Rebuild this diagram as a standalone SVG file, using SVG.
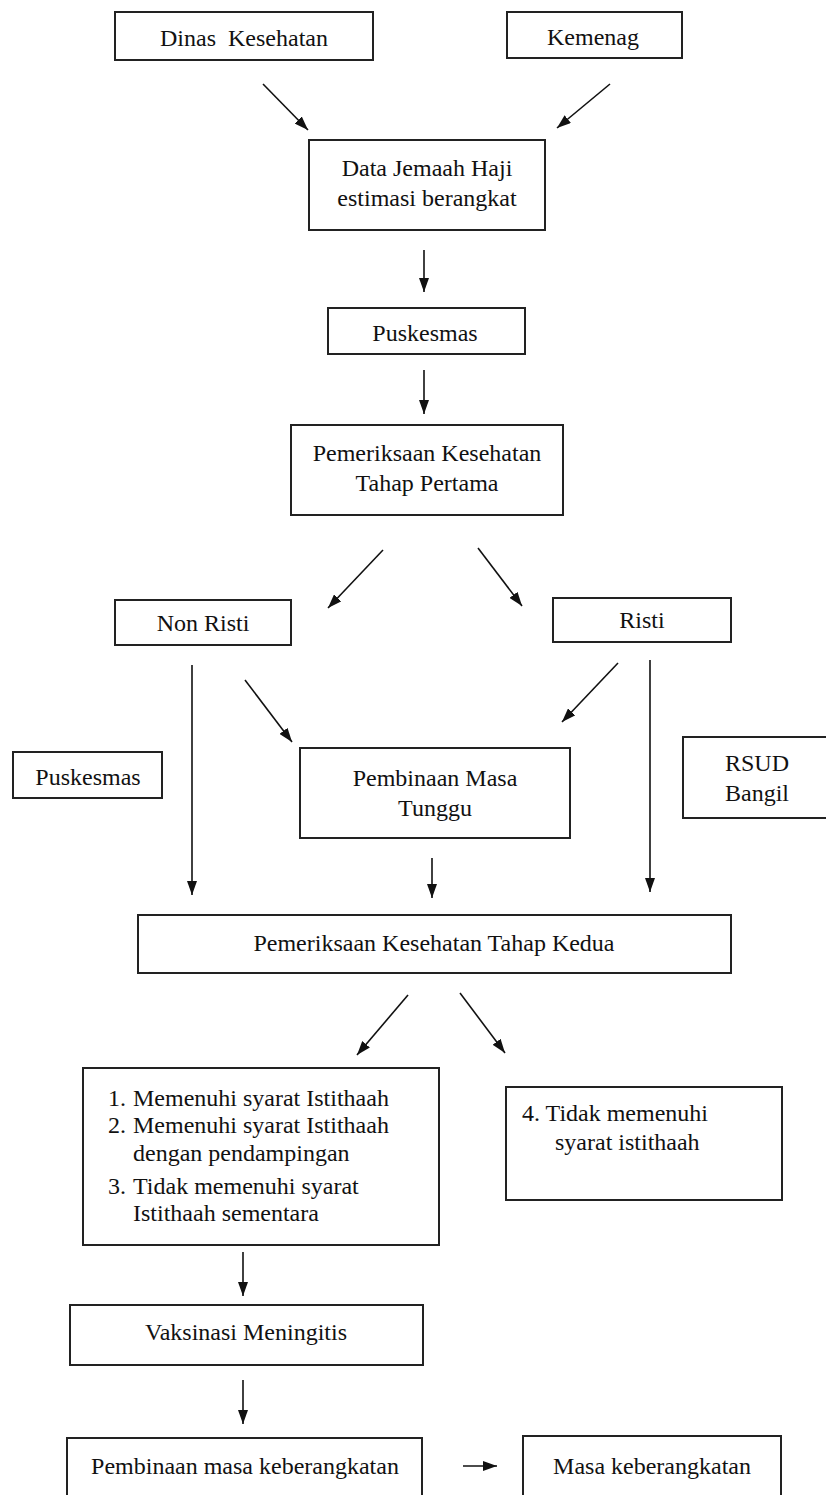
<svg xmlns="http://www.w3.org/2000/svg" width="826" height="1495" viewBox="0 0 826 1495">
<style>
.box{fill:#fff;stroke:#222;stroke-width:2}
.t{font-family:"Liberation Serif","Times New Roman",serif;font-size:24px;fill:#111;text-anchor:middle;white-space:pre}
.l{font-family:"Liberation Serif","Times New Roman",serif;font-size:24px;fill:#111;text-anchor:start}
.c{stroke:#111;stroke-width:1.6;fill:none;marker-end:url(#ah)}
</style>
<defs>
<marker id="ah" markerUnits="userSpaceOnUse" viewBox="0 0 14 10" markerWidth="14" markerHeight="10" refX="14" refY="5" orient="auto">
<path d="M0,0 L14,5 L0,10 z" fill="#111"/>
</marker>
</defs>
<rect width="826" height="1495" fill="#fff"/>
<g id="connectors">
<line class="c" x1="263" y1="84" x2="308" y2="130"/>
<line class="c" x1="610" y1="84" x2="557" y2="128"/>
<line class="c" x1="424" y1="250" x2="424" y2="292"/>
<line class="c" x1="424" y1="370" x2="424" y2="414"/>
<line class="c" x1="383" y1="550" x2="328" y2="608"/>
<line class="c" x1="478" y1="548" x2="522" y2="606"/>
<line class="c" x1="192" y1="665" x2="192" y2="895"/>
<line class="c" x1="245" y1="680" x2="292" y2="742"/>
<line class="c" x1="618" y1="663" x2="562" y2="722"/>
<line class="c" x1="650" y1="660" x2="650" y2="892"/>
<line class="c" x1="432" y1="858" x2="432" y2="898"/>
<line class="c" x1="408" y1="995" x2="357" y2="1055"/>
<line class="c" x1="460" y1="993" x2="505" y2="1053"/>
<line class="c" x1="243" y1="1252" x2="243" y2="1296"/>
<line class="c" x1="243" y1="1380" x2="243" y2="1424"/>
<line class="c" x1="463" y1="1466" x2="497" y2="1466"/>
</g>
<g id="dinas"><rect class="box" x="115" y="12" width="258" height="48"/><text class="t" x="244" y="46">Dinas  Kesehatan</text></g>
<g id="kemenag"><rect class="box" x="507" y="12" width="175" height="46"/><text class="t" x="593" y="45">Kemenag</text></g>
<g id="data"><rect class="box" x="309" y="140" width="236" height="90"/><text class="t" x="427" y="176">Data Jemaah Haji</text><text class="t" x="427" y="206">estimasi berangkat</text></g>
<g id="puskesmas1"><rect class="box" x="328" y="308" width="197" height="46"/><text class="t" x="425" y="341">Puskesmas</text></g>
<g id="tahap1"><rect class="box" x="291" y="425" width="272" height="90"/><text class="t" x="427" y="461">Pemeriksaan Kesehatan</text><text class="t" x="427" y="491">Tahap Pertama</text></g>
<g id="nonristi"><rect class="box" x="115" y="600" width="176" height="45"/><text class="t" x="203" y="631">Non Risti</text></g>
<g id="risti"><rect class="box" x="553" y="598" width="178" height="44"/><text class="t" x="642" y="628">Risti</text></g>
<g id="puskesmas2"><rect class="box" x="13" y="752" width="149" height="46"/><text class="t" x="88" y="785">Puskesmas</text></g>
<g id="masatunggu"><rect class="box" x="300" y="748" width="270" height="90"/><text class="t" x="435" y="786">Pembinaan Masa</text><text class="t" x="435" y="816">Tunggu</text></g>
<g id="rsud"><rect class="box" x="683" y="737" width="160" height="81"/><text class="t" x="757" y="771">RSUD</text><text class="t" x="757" y="801">Bangil</text></g>
<g id="tahap2"><rect class="box" x="138" y="915" width="593" height="58"/><text class="t" x="434" y="951">Pemeriksaan Kesehatan Tahap Kedua</text></g>
<g id="hasil"><rect class="box" x="83" y="1068" width="356" height="177"/>
<text class="l" x="108" y="1106">1.</text><text class="l" x="133" y="1106">Memenuhi syarat Istithaah</text>
<text class="l" x="108" y="1133">2.</text><text class="l" x="133" y="1133">Memenuhi syarat Istithaah</text>
<text class="l" x="133" y="1161">dengan pendampingan</text>
<text class="l" x="108" y="1194">3.</text><text class="l" x="133" y="1194">Tidak memenuhi syarat</text>
<text class="l" x="133" y="1221">Istithaah sementara</text></g>
<g id="tidak"><rect class="box" x="506" y="1087" width="276" height="113"/><text class="l" x="522" y="1121">4. Tidak memenuhi</text><text class="l" x="555" y="1150">syarat istithaah</text></g>
<g id="vaksin"><rect class="box" x="70" y="1305" width="353" height="60"/><text class="t" x="246" y="1340">Vaksinasi Meningitis</text></g>
<g id="pembinaan"><rect class="box" x="67" y="1438" width="355" height="70"/><text class="t" x="245" y="1474">Pembinaan masa keberangkatan</text></g>
<g id="masa"><rect class="box" x="523" y="1436" width="258" height="70"/><text class="t" x="652" y="1474">Masa keberangkatan</text></g>
</svg>
